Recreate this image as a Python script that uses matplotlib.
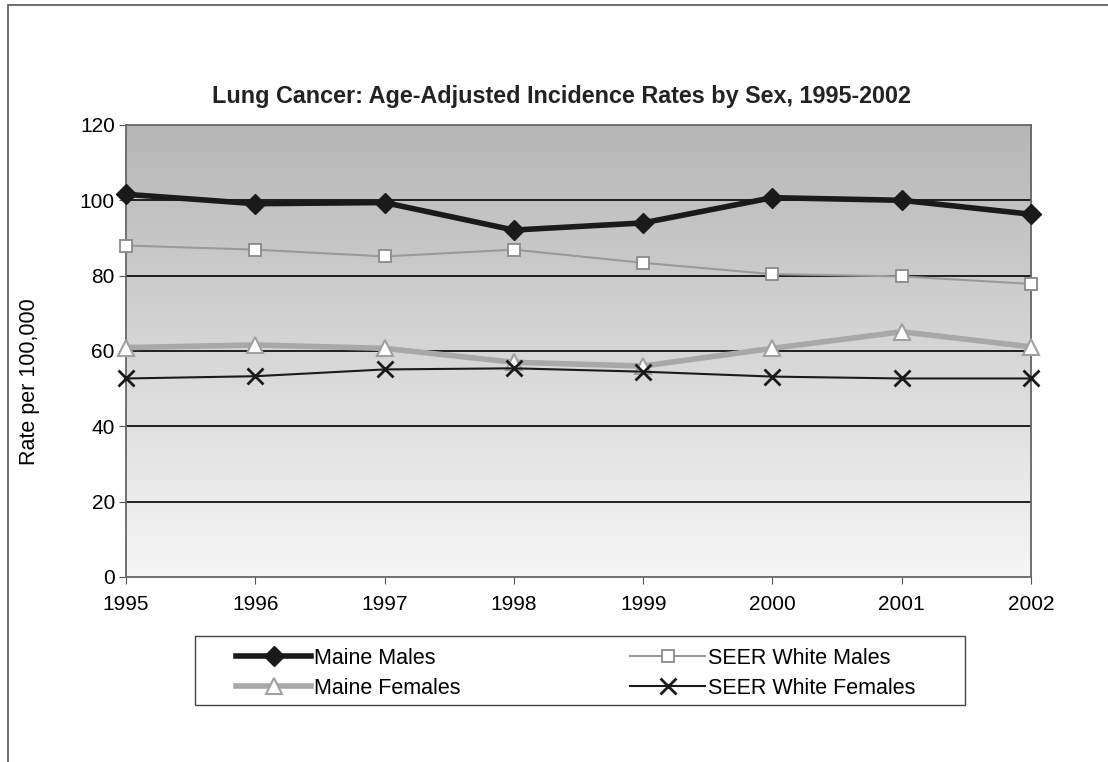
import numpy as np
import matplotlib.pyplot as plt
from matplotlib.colors import LinearSegmentedColormap
from matplotlib.patches import Rectangle

# dados
anos = [1995, 1996, 1997, 1998, 1999, 2000, 2001, 2002]
maine_males = [101.6, 99.1, 99.4, 92.1, 94.0, 100.7, 100.0, 96.3]
seer_white_males = [88.0, 86.9, 85.1, 86.9, 83.4, 80.4, 79.8, 77.8]
maine_females = [60.9, 61.6, 60.7, 57.0, 56.0, 60.7, 65.1, 61.1]
seer_white_females = [52.7, 53.3, 55.1, 55.4, 54.5, 53.2, 52.7, 52.7]
yticks = [0, 20, 40, 60, 80, 100, 120]

plt.rcParams['font.family'] = ['Liberation Sans', 'DejaVu Sans']

fig = plt.figure(figsize=(11.08, 7.62), dpi=100)
# moldura externa
fig.patches.append(Rectangle((0.007, -0.01), 1.0, 1.003, transform=fig.transFigure,
                             fill=False, edgecolor='#555555', linewidth=1.2))

ax = fig.add_axes([0.1137, 0.2428, 0.8168, 0.5932])

# fundo em degradê (escuro em cima, claro embaixo)
cinzas = LinearSegmentedColormap.from_list('cinzas', ['#b6b6b6', '#d6d6d6', '#f6f6f6'])
grad = np.linspace(0, 1, 256).reshape(-1, 1)
ax.imshow(grad, extent=[1995, 2002, 0, 120], aspect='auto', cmap=cinzas,
          origin='upper', zorder=0)

for y in yticks[1:-1]:
    ax.axhline(y, color='#111111', linewidth=1.3, zorder=1)

ax.plot(anos, seer_white_males, color='#9a9a9a', linewidth=1.5, marker='s',
        markersize=9, markerfacecolor='white', markeredgecolor='#8a8a8a',
        markeredgewidth=1.3, label='SEER White Males', zorder=3, clip_on=False)
ax.plot(anos, maine_females, color='#a8a8a8', linewidth=4, marker='^',
        markersize=12, markerfacecolor='white', markeredgecolor='#a0a0a0',
        markeredgewidth=1.5, label='Maine Females', zorder=3, clip_on=False)
ax.plot(anos, seer_white_females, color='#1a1a1a', linewidth=1.5, marker='x',
        markersize=11, markeredgewidth=2, label='SEER White Females', zorder=4,
        clip_on=False)
ax.plot(anos, maine_males, color='#1a1a1a', linewidth=4, marker='D',
        markersize=10, label='Maine Males', zorder=5, clip_on=False)

ax.set_xlim(1995, 2002)
ax.set_ylim(0, 120)
ax.set_yticks(yticks)
ax.set_xticks(anos)
ax.tick_params(labelsize=15, direction='out', length=5, color='#555555')
ax.tick_params(axis='x', pad=8)
ax.tick_params(axis='y', pad=3)
for side in ['left', 'bottom', 'top', 'right']:
    ax.spines[side].set_color('#666666')
    ax.spines[side].set_linewidth(1.3)

fig.text(0.507, 0.874, 'Lung Cancer: Age-Adjusted Incidence Rates by Sex, 1995-2002',
         fontsize=16.8, fontweight='bold', ha='center', va='center', color='#222222')
fig.text(0.027, 1 - 382 / 762, 'Rate per 100,000', rotation=90, fontsize=15.5,
         ha='center', va='center')

# legenda sem moldura + retângulo desenhado à parte
handles, labels = ax.get_legend_handles_labels()
ordem = ['Maine Males', 'Maine Females', 'SEER White Males', 'SEER White Females']
h = [handles[labels.index(n)] for n in ordem]
leg = fig.legend(h, ordem, ncol=2, loc='upper left',
                 bbox_to_anchor=(236 / 1108, 1 - 648 / 762),
                 fontsize=15.5, frameon=False, borderpad=0, borderaxespad=0,
                 handlelength=3.5, handletextpad=0.1, columnspacing=7.9,
                 labelspacing=0.4)
fig.patches.append(Rectangle((195 / 1108, 1 - 705 / 762), 770 / 1108, 69 / 762,
                             transform=fig.transFigure, fill=False,
                             edgecolor='#444444', linewidth=1.0))

fig.savefig('out.png', dpi=100)
